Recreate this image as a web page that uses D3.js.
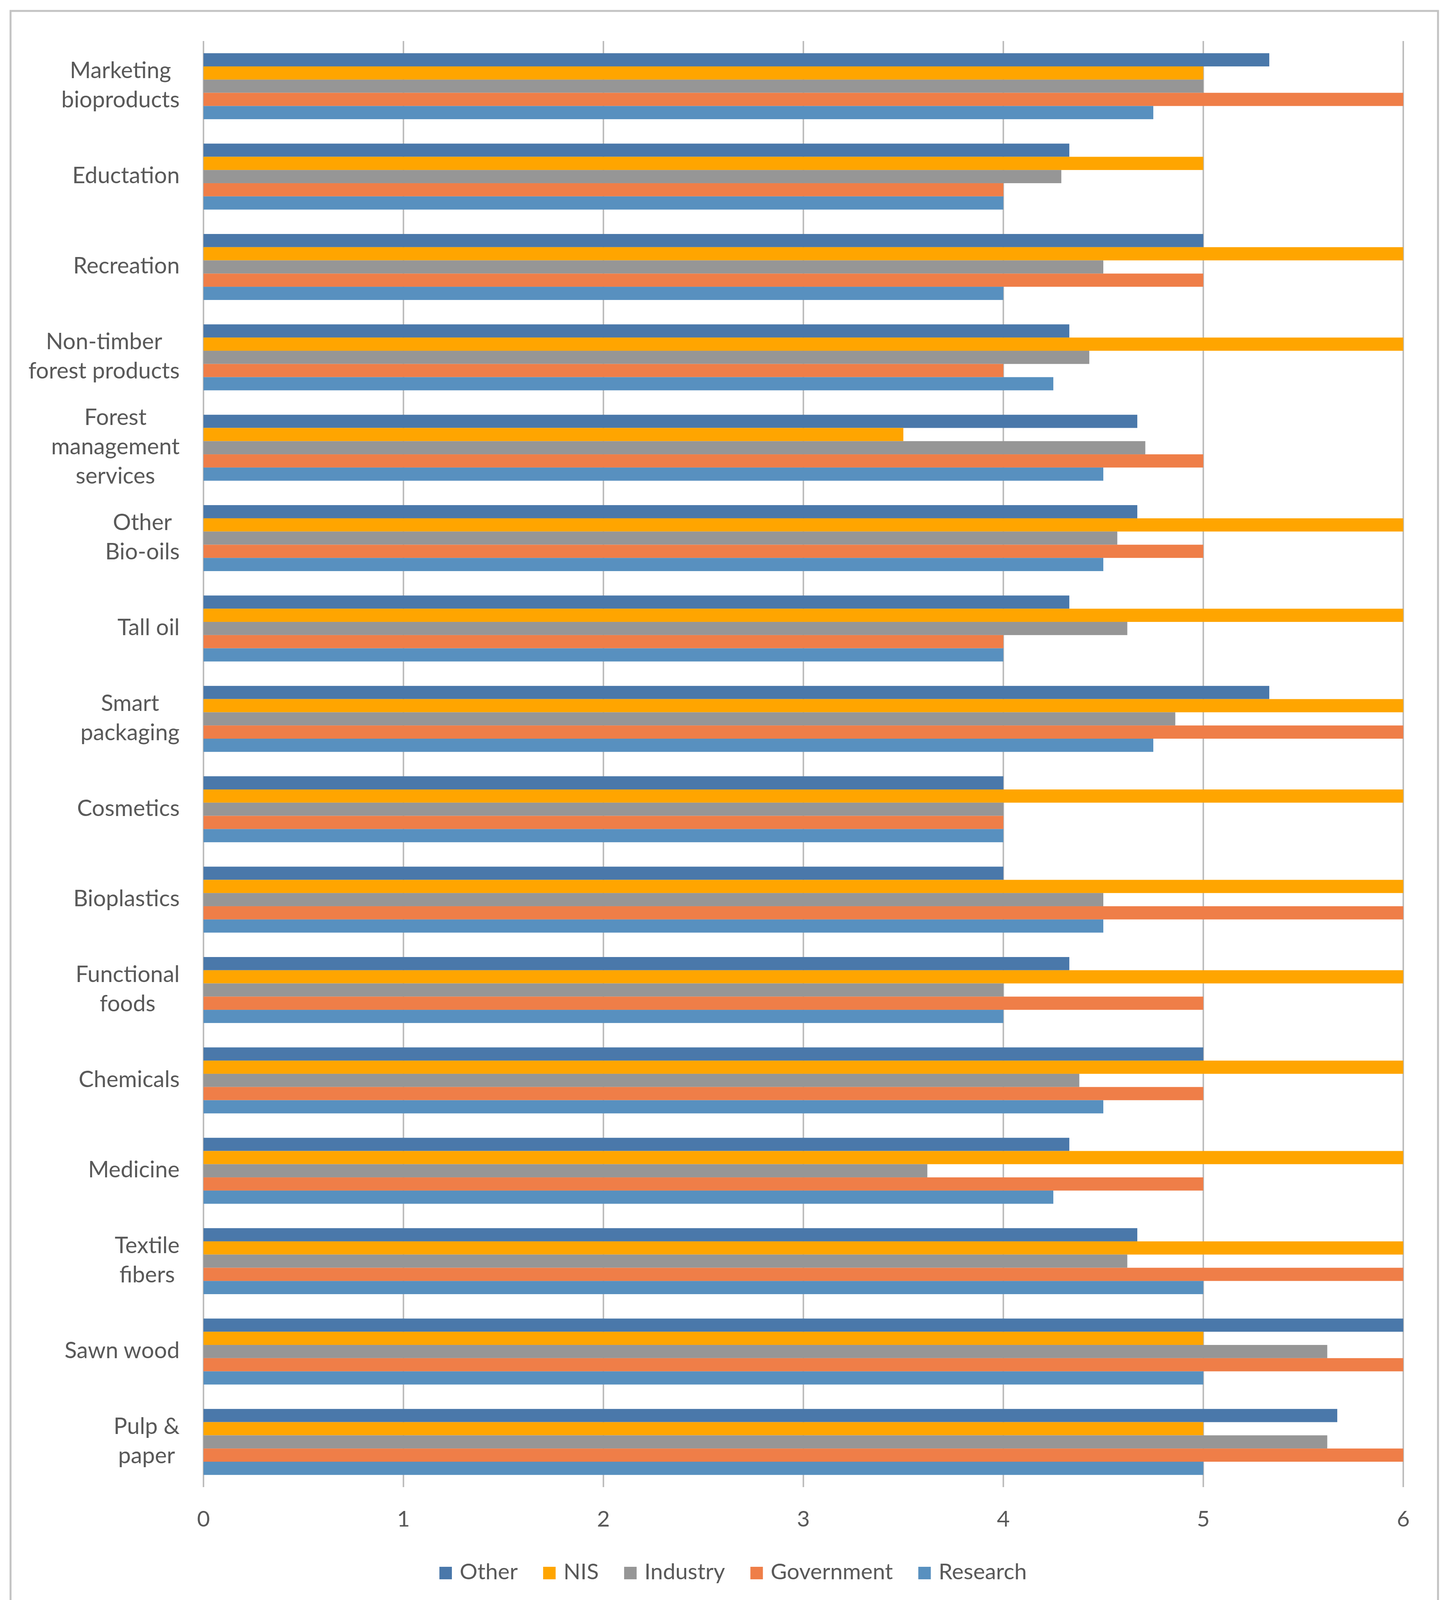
<!DOCTYPE html>
<html>
<head>
<meta charset="utf-8">
<script src="https://cdn.jsdelivr.net/npm/d3@7"></script>
<style>
  body { margin: 0; background: #fff; }
  text { font-family: Lato, "Open Sans", sans-serif; fill: #595959; }
</style>
</head>
<body>
<div id="chart"></div>
<script>
// chart data, top category first
var categories = [
  "Marketing\nbioproducts", "Eductation", "Recreation", "Non-timber\nforest products",
  "Forest\nmanagement\nservices", "Other\nBio-oils", "Tall oil", "Smart\npackaging",
  "Cosmetics", "Bioplastics", "Functional\nfoods", "Chemicals", "Medicine",
  "Textile\nfibers", "Sawn wood", "Pulp &\npaper"
]
var seriesNames = ["Other", "NIS", "Industry", "Government", "Research"]
var colors = ["#4a78aa", "#ffa500", "#969696", "#ef7e48", "#5890bf"]

var other      = [5.33, 4.33, 5, 4.33, 4.67, 4.67, 4.33, 5.33, 4, 4, 4.33, 5, 4.33, 4.67, 6, 5.67]
var nis        = [5, 5, 6, 6, 3.5, 6, 6, 6, 6, 6, 6, 6, 6, 6, 5, 5]
var industry   = [5, 4.29, 4.5, 4.43, 4.71, 4.57, 4.62, 4.86, 4, 4.5, 4, 4.38, 3.62, 4.62, 5.62, 5.62]
var government = [6, 4, 5, 4, 5, 5, 4, 6, 4, 6, 5, 5, 5, 6, 6, 6]
var research   = [4.75, 4, 4, 4.25, 4.5, 4.5, 4, 4.75, 4, 4.5, 4, 4.5, 4.25, 5, 5, 5]
var xTicks = [0, 1, 2, 3, 4, 5, 6]

var seriesValues = [other, nis, industry, government, research]

var width = 3705
var height = 4161

var svg = d3.select("#chart")
    .append("svg")
    .attr("width", width)
    .attr("height", height)

// outer chart border
svg.append("rect")
    .attr("x", 27).attr("y", 28)
    .attr("width", 3655).attr("height", 4099)
    .attr("fill", "#fff")
    .attr("stroke", "#c3c3c3")
    .attr("stroke-width", 5)

var x = d3.scaleLinear().domain([0, 6]).range([521, 3593])

var y = d3.scaleBand()
    .domain(categories)
    .range([105, 3807])
    .paddingInner(0.27)
    .paddingOuter(0.135)

var ySub = d3.scaleBand()
    .domain(seriesNames)
    .range([0, y.bandwidth()])

// vertical gridlines
svg.append("g")
    .selectAll("line")
    .data(xTicks)
    .enter()
    .append("line")
    .attr("x1", d => x(d)).attr("x2", d => x(d))
    .attr("y1", 105).attr("y2", 3807)
    .attr("stroke", "#bdbdbd")
    .attr("stroke-width", 4)

// bars
var rows = []
categories.forEach(function(c, i) {
    seriesNames.forEach(function(s, j) {
        rows.push({ cat: c, series: s, value: seriesValues[j][i], color: colors[j] })
    })
})

svg.append("g")
    .selectAll("rect")
    .data(rows)
    .enter()
    .append("rect")
    .attr("x", x(0))
    .attr("y", d => y(d.cat) + ySub(d.series))
    .attr("width", d => x(d.value) - x(0))
    .attr("height", ySub.bandwidth())
    .attr("fill", d => d.color)

// x tick labels
svg.append("g")
    .selectAll("text")
    .data(xTicks)
    .enter()
    .append("text")
    .attr("x", d => x(d))
    .attr("y", 3908)
    .attr("text-anchor", "middle")
    .style("font-size", "57px")
    .text(d => d)

// category labels: lines centred on each other, block right aligned
var lineH = 75
var labels = svg.append("g")
categories.forEach(function(c) {
    var lines = c.split("\n")
    var cy = y(c) + y.bandwidth() / 2
    var t = labels.append("text")
        .style("font-size", "58px")
        .attr("text-anchor", "middle")
    lines.forEach(function(l, k) {
        t.append("tspan")
            .attr("x", 0)
            .attr("y", cy + (k - (lines.length - 1) / 2) * lineH + 17)
            .text(l)
    })
    var w = d3.max(t.selectAll("tspan").nodes(), n => n.getComputedTextLength())
    t.selectAll("tspan").attr("x", 460 - w / 2)
})

// legend
var legend = svg.append("g")
var lx = 0
seriesNames.forEach(function(s, j) {
    legend.append("rect")
        .attr("x", lx).attr("y", 4011)
        .attr("width", 32).attr("height", 32)
        .attr("fill", colors[j])
    var t = legend.append("text")
        .attr("x", lx + 52)
        .attr("y", 4043)
        .style("font-size", "57px")
        .text(s)
    lx += 52 + t.node().getComputedTextLength() + 65
})
var legendW = lx - 65
legend.attr("transform", "translate(" + (1877 - legendW / 2) + ",0)")
</script>
</body>
</html>
